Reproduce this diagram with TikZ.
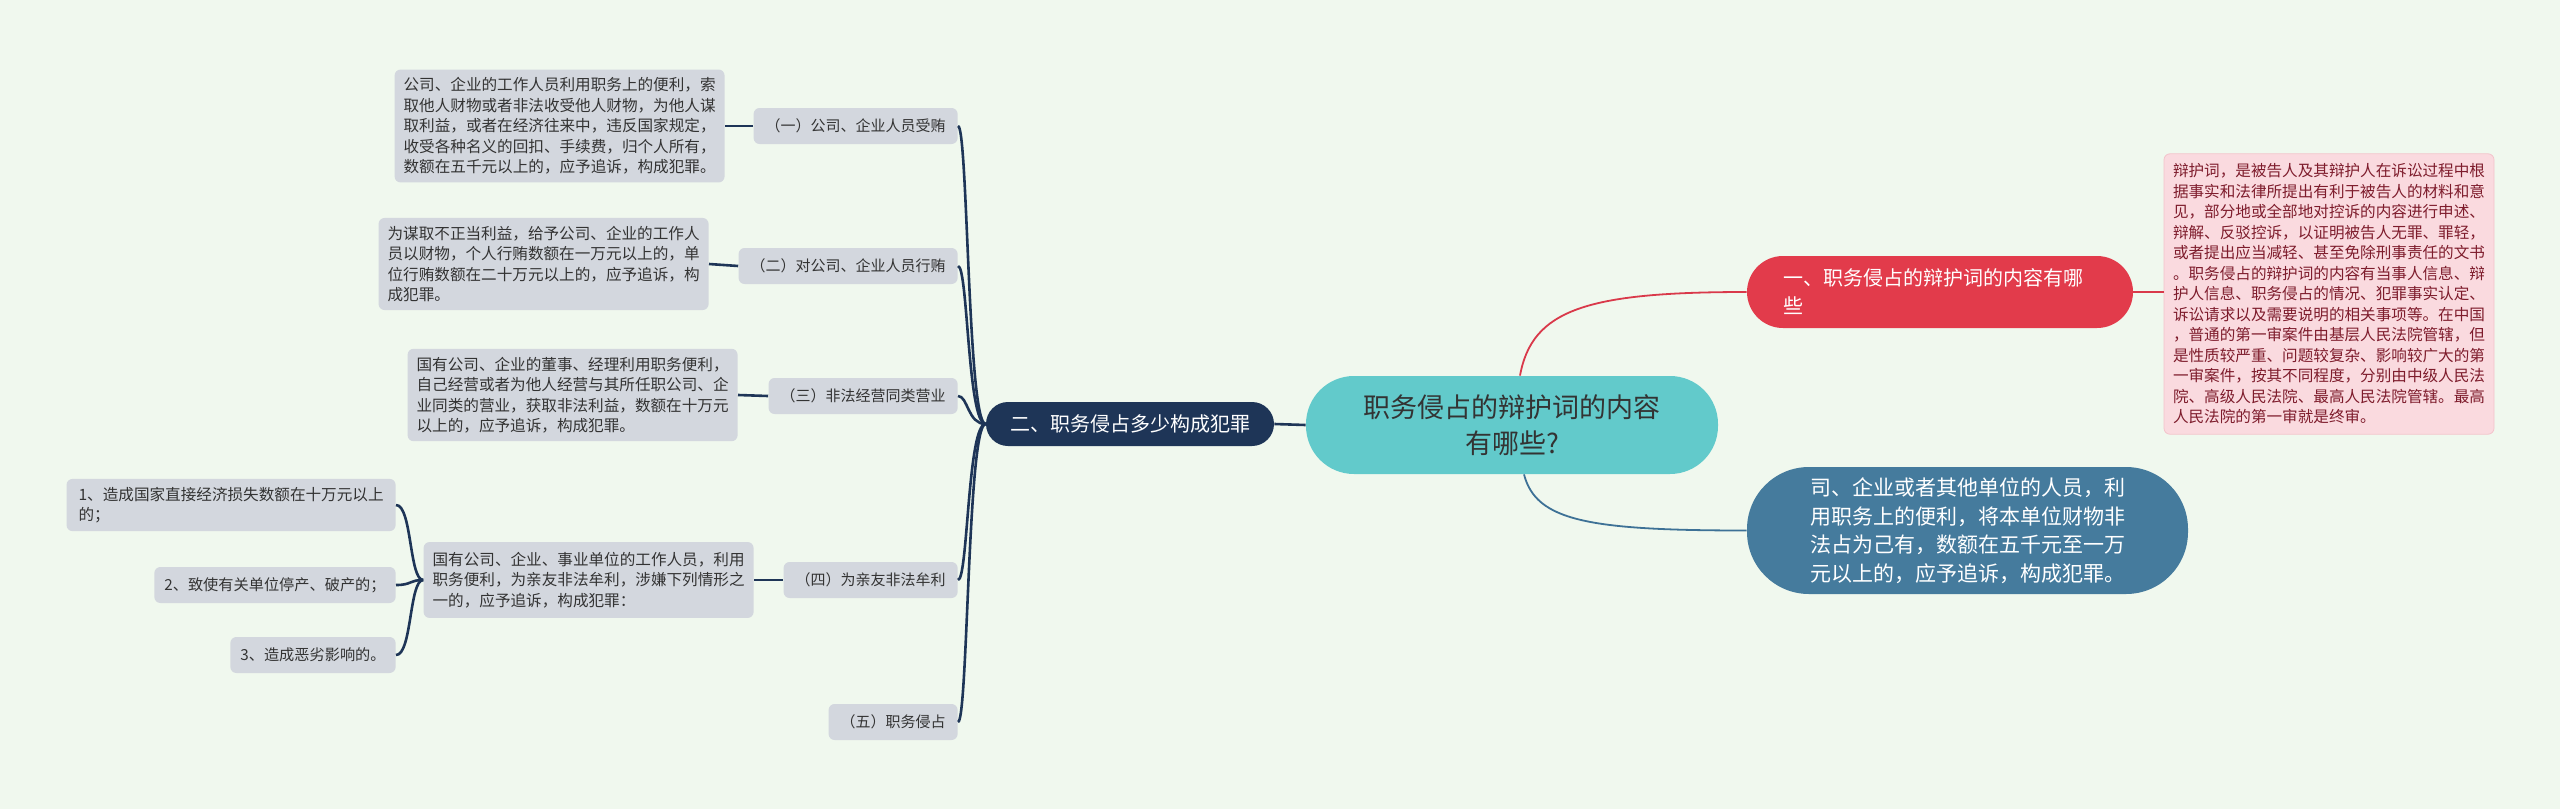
\documentclass[tikz,border=0pt]{standalone}
\usepackage{fontspec}
\setmainfont{Noto Sans CJK SC}
\definecolor{bgc}{HTML}{F0F8EE}
\definecolor{tealc}{HTML}{62CACB}
\definecolor{navyc}{HTML}{1E3557}
\definecolor{redc}{HTML}{E23B4B}
\definecolor{bluec}{HTML}{457B9D}
\definecolor{pinkc}{HTML}{FADADF}
\definecolor{pinkb}{HTML}{F3C3CB}
\definecolor{pinktxt}{HTML}{7E1C2C}
\definecolor{grayc}{HTML}{D3D7DE}
\definecolor{txtc}{HTML}{333333}
\definecolor{redl}{HTML}{D9394A}
\definecolor{bluel}{HTML}{3D7196}
\begin{document}
\begin{tikzpicture}[x=0.5pt,y=-0.5pt,
  graybox/.style={fill=grayc, rounded corners=3pt, text=txtc, font=\fontsize{7.8pt}{10.25pt}\selectfont, inner xsep=4.5pt, inner ysep=4pt, align=left},
  kidbox/.style={fill=grayc, rounded corners=3pt, text=txtc, font=\fontsize{7.5pt}{10pt}\selectfont, inner xsep=6pt, minimum height=18pt, anchor=east},
  navyline/.style={draw=navyc, line width=1.3pt},
  redline/.style={draw=redl, line width=0.9pt},
  blueline/.style={draw=bluel, line width=0.9pt}]
\fill[bgc] (0,0) rectangle (2560,809);
\useasboundingbox (0,0) rectangle (2560,809);

% central
\node[fill=tealc, rounded corners=24pt, minimum width=206pt, minimum height=49pt, text=txtc, align=center, font=\fontsize{13.5pt}{18pt}\selectfont] (center) at (1512,425) {职务侵占的辩护词的内容\\有哪些?};

% left main
\node[fill=navyc, rounded corners=11pt, minimum width=144pt, minimum height=22pt, text=white, font=\fontsize{10pt}{12pt}\selectfont] (navy) at (1130,424) {二、职务侵占多少构成犯罪};

% right main
\node[fill=redc, rounded corners=18pt, minimum width=193pt, minimum height=36pt, text=white, text width=157pt, align=left, font=\fontsize{10pt}{14pt}\selectfont] (red) at (1940,292) {一、职务侵占的辩护词的内容有哪\\些};
\node[fill=bluec, rounded corners=31pt, minimum width=220.5pt, minimum height=63.5pt, text=white, align=left, font=\fontsize{10.5pt}{14.3pt}\selectfont] (blue) at (1967.5,530.5) {司、企业或者其他单位的人员，利\\用职务上的便利，将本单位财物非\\法占为己有，数额在五千元至一万\\元以上的，应予追诉，构成犯罪。};

\node[fill=pinkc, draw=pinkb, line width=0.4pt, rounded corners=3pt, text=pinktxt, align=left, inner xsep=4.5pt, inner ysep=5pt, font=\fontsize{7.8pt}{10.25pt}\selectfont] (pink) at (2329,294) {辩护词，是被告人及其辩护人在诉讼过程中根\\据事实和法律所提出有利于被告人的材料和意\\见，部分地或全部地对控诉的内容进行申述、\\辩解、反驳控诉，以证明被告人无罪、罪轻，\\或者提出应当减轻、甚至免除刑事责任的文书\\。职务侵占的辩护词的内容有当事人信息、辩\\护人信息、职务侵占的情况、犯罪事实认定、\\诉讼请求以及需要说明的相关事项等。在中国\\，普通的第一审案件由基层人民法院管辖，但\\是性质较严重、问题较复杂、影响较广大的第\\一审案件，按其不同程度，分别由中级人民法\\院、高级人民法院、最高人民法院管辖。最高\\人民法院的第一审就是终审。};

% left children
\node[kidbox] (c1) at (958,126) {（一）公司、企业人员受贿};
\node[kidbox] (c2) at (958,266) {（二）对公司、企业人员行贿};
\node[kidbox] (c3) at (958,396) {（三）非法经营同类营业};
\node[kidbox] (c4) at (958,580) {（四）为亲友非法牟利};
\node[kidbox] (c5) at (958,722) {（五）职务侵占};

% details
\node[graybox, anchor=east] (d1) at (725,126) {公司、企业的工作人员利用职务上的便利，索\\取他人财物或者非法收受他人财物，为他人谋\\取利益，或者在经济往来中，违反国家规定，\\收受各种名义的回扣、手续费，归个人所有，\\数额在五千元以上的，应予追诉，构成犯罪。};
\node[graybox, anchor=east] (d2) at (709,264) {为谋取不正当利益，给予公司、企业的工作人\\员以财物，个人行贿数额在一万元以上的，单\\位行贿数额在二十万元以上的，应予追诉，构\\成犯罪。};
\node[graybox, anchor=east] (d3) at (738,395) {国有公司、企业的董事、经理利用职务便利，\\自己经营或者为他人经营与其所任职公司、企\\业同类的营业，获取非法利益，数额在十万元\\以上的，应予追诉，构成犯罪。};
\node[graybox, anchor=east, inner ysep=5pt] (d4) at (754,580) {国有公司、企业、事业单位的工作人员，利用\\职务便利，为亲友非法牟利，涉嫌下列情形之\\一的，应予追诉，构成犯罪：};

% sub items
\node[graybox, anchor=east, inner xsep=6pt] (s1) at (396,505) {1、造成国家直接经济损失数额在十万元以上\\的；};
\node[kidbox, font=\fontsize{7.6pt}{10pt}\selectfont, inner xsep=5pt] (s2) at (396,585) {2、致使有关单位停产、破产的；};
\node[kidbox, font=\fontsize{7.6pt}{10pt}\selectfont, inner xsep=5pt] (s3) at (396,655) {3、造成恶劣影响的。};

% connectors
\draw[navyline] (navy.east) -- (center.west);
\draw[redline] ([xshift=4pt]center.north) .. controls +(12,-66) and +(-160,0) .. (red.west);
\draw[blueline] ([xshift=6pt]center.south) .. controls +(12,46) and +(-160,0) .. (blue.west);
\draw[redline] (red.east) -- (red.east -| pink.west);

\foreach \c in {c1,c2,c3,c4,c5}{
  \draw[navyline] (navy.west) .. controls +(-18,0) and +(10,0) .. (\c.east);
}
\draw[navyline] (c1.west) -- (d1.east);
\draw[navyline] (c2.west) -- (d2.east);
\draw[navyline] (c3.west) -- (d3.east);
\draw[navyline] (c4.west) -- (d4.east);
\foreach \s in {s1,s2,s3}{
  \draw[navyline] (d4.west) .. controls +(-14,0) and +(16,0) .. (\s.east);
}
\end{tikzpicture}
\end{document}
